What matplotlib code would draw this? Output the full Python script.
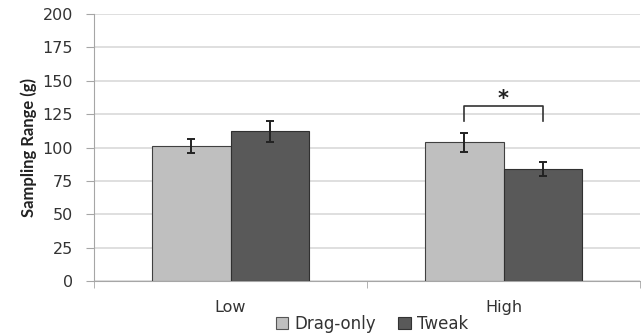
import matplotlib
matplotlib.use("Agg")
import matplotlib.pyplot as plt
import numpy as np
from matplotlib.patches import Patch

categories = ["Low", "High"]
series_names = ["Drag-only", "Tweak"]
drag_only = [101, 104]
tweak = [112, 84]
drag_err = [5, 7]
tweak_err = [8, 5.5]
yticks = [0, 25, 50, 75, 100, 125, 150, 175, 200]

plt.rcParams['font.family'] = ['DejaVu Sans']

fig = plt.figure(figsize=(6.41, 3.35), dpi=100)
ax = fig.add_axes([94/641, 1-281/335, 546/641, 267/335])

x = np.arange(len(categories))
w = 0.286
c_light = "#BFBFBF"
c_dark = "#595959"
ax.bar(x - w/2, drag_only, w, color=c_light, edgecolor="#404040", linewidth=0.8, zorder=3)
ax.bar(x + w/2, tweak, w, color=c_dark, edgecolor="#303030", linewidth=0.8, zorder=3)
ax.errorbar(x - w/2, drag_only, yerr=drag_err, fmt='none', ecolor="#222222", elinewidth=1.4, capsize=3, capthick=1.4, zorder=4)
ax.errorbar(x + w/2, tweak, yerr=tweak_err, fmt='none', ecolor="#222222", elinewidth=1.4, capsize=3, capthick=1.4, zorder=4)

# significance bracket on High
x1, x2 = 1 - w/2, 1 + w/2
ax.plot([x1, x1, x2, x2], [120, 131, 131, 120], color="#333333", linewidth=1.2, zorder=4,
        solid_joinstyle="round")
ax.text((x1 + x2)/2, 128.5, "*", ha="center", va="bottom", fontsize=15, fontweight="bold", color="#222222")

ax.set_xlim(-0.5, 1.5)
ax.set_ylim(0, 200)
ax.set_yticks(yticks)
ax.set_yticklabels([str(t) for t in yticks], fontsize=11.5, color="#333333")
ax.yaxis.grid(True, color="#D9D9D9", linewidth=1.2, zorder=0)
ax.set_axisbelow(True)

ax.set_xticks(x)
ax.set_xticklabels(categories, fontsize=11.5, color="#333333")
ax.set_xticks([-0.5, 0.5, 1.5], minor=True)
ax.tick_params(axis='x', which='major', length=0, pad=14)
ax.tick_params(axis='x', which='minor', length=5, color="#A6A6A6")
ax.tick_params(axis='y', length=6, color="#A6A6A6", pad=9)

for s in ["top", "right"]:
    ax.spines[s].set_visible(False)
ax.spines["left"].set_color("#A6A6A6")
ax.spines["bottom"].set_color("#A6A6A6")

ax.set_ylabel("Sampling Range (g)", fontsize=12, fontweight="bold", color="#222222", labelpad=4,
              family=["Lato", "DejaVu Sans"])

handles = [Patch(facecolor=c_light, edgecolor="#555555", linewidth=0.8),
           Patch(facecolor=c_dark, edgecolor="#333333", linewidth=0.8)]
fig.legend(handles, series_names, loc="center", bbox_to_anchor=(372/641, 1-324/335),
           ncol=2, frameon=False, fontsize=12, handlelength=0.75, handleheight=0.75,
           handletextpad=0.4, columnspacing=1.3, labelcolor="#333333")

fig.savefig("out.png", dpi=100)
